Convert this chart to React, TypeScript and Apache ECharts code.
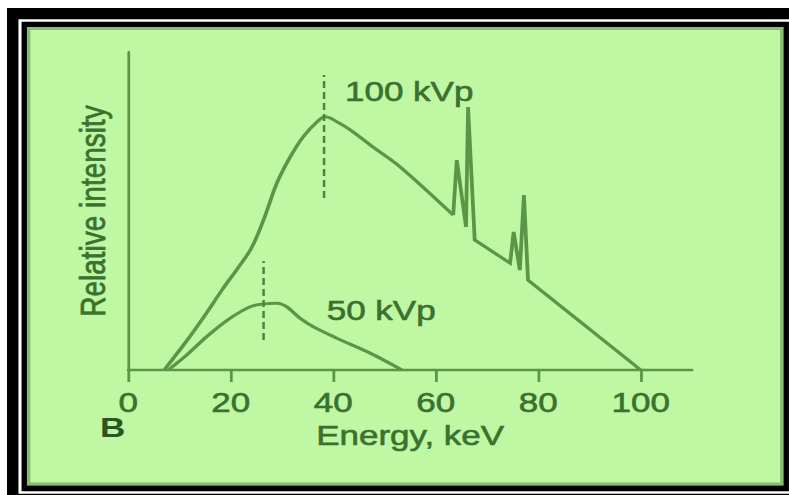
import React, { useEffect, useRef } from "react";
import * as echarts from "echarts";

// ---- data ----
const xTicks = [0, 20, 40, 60, 80, 100];
const energy100Rise = [7.0, 11.5, 15.0, 18.3, 21.4, 23.8, 25.3, 26.9, 29.0, 31.6, 34.1, 36.8, 38.4, 40.7, 43.3, 48.1, 53.0, 63.4];
const intensity100Rise = [0, 9.4, 17.3, 25.2, 32.1, 37.7, 42.8, 49.4, 58.8, 67.0, 73.3, 78.0, 79.6, 78.1, 75.5, 69.7, 63.9, 48.7];
const energy100Lines = [63.4, 64.1, 65.9, 66.3, 67.6, 74.5, 75.2, 76.4, 77.2, 78.0, 100];
const intensity100Lines = [48.7, 66.0, 45.0, 82.7, 40.9, 33.6, 43.4, 31.4, 55.0, 28.3, 0];
const energy50 = [7.8, 11.4, 15.3, 19.9, 23.8, 26.4, 29.0, 30.9, 33.5, 36.1, 40.7, 47.2, 53.4];
const intensity50 = [0, 4.7, 10.5, 16.3, 19.9, 20.8, 21.0, 19.9, 16.3, 13.6, 10.0, 5.3, 0];
const peakEnergies = [38.2, 26.4];
const peakLow = [54.1, 9.4];
const peakHigh = [92.8, 34.3];
const curveLabels = ["100 kVp", "50 kVp"];
const panelLetter = "B";
const xAxisTitle = "Energy, keV";
const yAxisTitle = "Relative intensity";

const zip = (xs: number[], ys: number[]) => xs.map((x, i) => [x, ys[i]]);

// layout: the reference is stretched horizontally; render narrower and scale
const W = 631;
const H = 495;
const S = 789 / W;
const ix = (px: number) => px / S;

const CURVE = "#5a9648";
const TEXT = "#3a712f";
const FONT = '"Liberation Sans", Arial, sans-serif';
const EMBOLDEN = { textBorderColor: TEXT, textBorderWidth: 0.6 };

export default function App() {
  const ref = useRef<HTMLDivElement>(null);
  useEffect(() => {
    document.body.style.margin = "0";
    document.body.style.overflow = "hidden";
    const chart = echarts.init(ref.current!, null, { renderer: "svg" });
    const option: any = {
      animation: false,
      grid: { left: ix(128.3), right: W - ix(692), top: 52, bottom: H - 370 },
      xAxis: {
        type: "value",
        min: 0,
        max: 110,
        interval: 20,
        axisLine: { show: true, lineStyle: { color: CURVE, width: 2.4 } },
        axisTick: {
          show: true,
          length: 12,
          customValues: xTicks,
          lineStyle: { color: CURVE, width: 2.2 },
        },
        axisLabel: {
          customValues: xTicks,
          margin: 18,
          color: TEXT,
          fontSize: 28,
          fontFamily: FONT,
          ...EMBOLDEN,
        },
        splitLine: { show: false },
        name: xAxisTitle,
        nameLocation: "middle",
        nameGap: 49,
        nameTextStyle: { color: TEXT, fontSize: 28, fontFamily: FONT, ...EMBOLDEN },
      },
      yAxis: {
        type: "value",
        min: 0,
        max: 100,
        axisLine: { show: true, lineStyle: { color: CURVE, width: 2.2 } },
        axisTick: { show: false },
        axisLabel: { show: false },
        splitLine: { show: false },
        name: yAxisTitle,
        nameLocation: "middle",
        nameGap: 14,
        nameTextStyle: { color: TEXT, fontSize: 28, fontFamily: FONT, ...EMBOLDEN },
      },
      graphic: [
        { type: "rect", z: -10, shape: { x: ix(7), y: 8, width: W, height: H }, style: { fill: "#000" } },
        {
          type: "rect",
          z: -9,
          shape: { x: ix(20), y: 20.5, width: ix(790.5) - ix(20), height: 472 },
          style: { fill: "none", stroke: "#fff", lineWidth: 2.5 },
        },
        {
          type: "rect",
          z: -8,
          shape: { x: ix(27), y: 27, width: ix(783.5) - ix(27), height: 458.5 },
          style: { fill: "#bff7a2" },
        },
        {
          type: "rect",
          z: -7,
          shape: { x: ix(28.5), y: 28.5, width: ix(782) - ix(28.5), height: 455.5 },
          style: { fill: "none", stroke: "rgba(70,120,50,0.45)", lineWidth: 3 },
        },
        {
          type: "text",
          z: 50,
          style: { text: curveLabels[0], x: ix(345), y: 91, fill: TEXT, stroke: TEXT, lineWidth: 0.6, font: `28px ${FONT}`, textAlign: "left", textVerticalAlign: "middle" },
        },
        {
          type: "text",
          z: 50,
          style: { text: curveLabels[1], x: ix(326.7), y: 310.5, fill: TEXT, stroke: TEXT, lineWidth: 0.6, font: `28px ${FONT}`, textAlign: "left", textVerticalAlign: "middle" },
        },
        {
          type: "text",
          z: 50,
          style: { text: panelLetter, x: ix(100), y: 427, fill: "#2b5426", font: `bold 28px ${FONT}`, textAlign: "left", textVerticalAlign: "middle" },
        },
      ],
      series: [
        {
          name: "100 kVp",
          type: "line",
          data: zip(energy100Rise, intensity100Rise),
          smooth: 0.35,
          showSymbol: false,
          lineStyle: { color: CURVE, width: 3 },
        },
        {
          name: "100 kVp lines",
          type: "line",
          data: zip(energy100Lines, intensity100Lines),
          smooth: false,
          showSymbol: false,
          lineStyle: { color: CURVE, width: 3, join: "miter", miterLimit: 4 },
        },
        {
          name: "50 kVp",
          type: "line",
          data: zip(energy50, intensity50),
          smooth: 0.35,
          showSymbol: false,
          lineStyle: { color: CURVE, width: 3 },
        },
        ...peakEnergies.map((e, i) => ({
          name: "peak " + curveLabels[i],
          type: "line",
          data: [
            [e, peakLow[i]],
            [e, peakHigh[i]],
          ],
          showSymbol: false,
          lineStyle: { color: "#4a8440", width: 2, type: [7, 4] },
        })),
      ],
    };
    chart.setOption(option);
    return () => chart.dispose();
  }, []);
  return (
    <div
      ref={ref}
      style={{
        position: "absolute",
        left: 0,
        top: 0,
        width: W,
        height: H,
        transform: `scaleX(${S})`,
        transformOrigin: "0 0",
      }}
    />
  );
}
